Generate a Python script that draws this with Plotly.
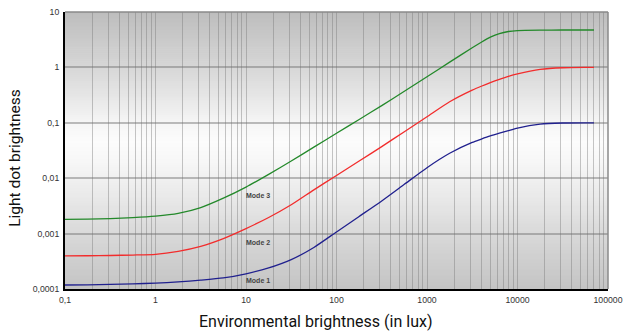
import numpy as np
import plotly.graph_objects as go

# ---------------- data ----------------
lux = [0.1, 0.178, 0.316, 0.562, 1, 1.78, 3.16, 5.62, 10, 17.8, 31.6, 56.2, 100, 178, 316, 562,
       1000, 1780, 3160, 3980, 5010, 6310, 7940, 10000, 17800, 31600, 56200, 70000]

mode1 = [1.180e-4, 1.189e-4, 1.208e-4, 1.239e-4, 1.279e-4, 1.343e-4, 1.445e-4, 1.585e-4, 1.884e-4, 2.399e-4,
         3.388e-4, 5.623e-4, 1.072e-3, 2.042e-3, 3.890e-3, 7.762e-3, 0.01549, 0.02818, 0.04416, 0.0507,
         0.05781, 0.06486, 0.07244, 0.08035, 0.09441, 0.09908, 0.1, 0.1]
mode2 = [3.954e-4, 3.981e-4, 4.027e-4, 4.102e-4, 4.217e-4, 4.786e-4, 5.888e-4, 8.128e-4, 1.230e-3, 1.950e-3,
         3.311e-3, 6.166e-3, 0.01122, 0.02042, 0.03715, 0.06918, 0.1288, 0.2399, 0.3890, 0.4571,
         0.5309, 0.6095, 0.6918, 0.7674, 0.9226, 0.9863, 1.0, 1.0]
mode3 = [1.799e-3, 1.828e-3, 1.871e-3, 1.941e-3, 2.065e-3, 2.317e-3, 2.951e-3, 4.365e-3, 6.918e-3, 0.01175,
         0.02042, 0.03631, 0.06457, 0.1148, 0.2042, 0.3715, 0.6761, 1.245, 2.265, 2.851,
         3.508, 4.074, 4.446, 4.613, 4.699, 4.732, 4.732, 4.732]

series_names = ["Mode 1", "Mode 2", "Mode 3"]
series_colors = ["#20208e", "#f22c2c", "#23892a"]

x_decades = [0.1, 1, 10, 100, 1000, 10000, 100000]
x_labels = ["0,1", "1", "10", "100", "1000", "10000", "100000"]
y_decades = [0.0001, 0.001, 0.01, 0.1, 1, 10]
y_labels = ["0,0001", "0,001", "0,01", "0,1", "1", "10"]

label_pos = {"Mode 1": (13.5, 0.000141), "Mode 2": (13.5, 0.000697), "Mode 3": (13.5, 0.00483)}

# ---------------- figure ----------------
fig = go.Figure()
for name, vals, col in zip(series_names, [mode1, mode2, mode3], series_colors):
    fig.add_trace(go.Scatter(x=lux, y=vals, mode="lines", name=name,
                             line=dict(color=col, width=1.3, shape="spline", smoothing=0.6)))

# vertical grid at all 1..9 multiples
x_grid = []
for d in x_decades[:-1]:
    for m in range(1, 10):
        x_grid.append(d * m)
x_grid.append(x_decades[-1])
x_text = [x_labels[x_decades.index(v)] if v in x_decades else "" for v in x_grid]

# background gradient strips (below gridlines)
stops_f = [0.0, 0.2, 0.4, 0.47, 0.55, 0.68, 0.8, 1.0]
stops_g = [189, 214, 245, 252, 246, 232, 217, 196]
n = 139
shapes = []
for i in range(n):
    f0 = i / n
    f1 = (i + 1) / n
    g = int(round(np.interp((f0 + f1) / 2, stops_f, stops_g)))
    shapes.append(dict(type="rect", xref="paper", yref="paper", x0=0, x1=1,
                       y0=1 - f1, y1=min(1, 1 - f0 + 0.002), layer="below",
                       line=dict(width=0), fillcolor=f"rgb({g},{g},{g})"))
shapes.append(dict(type="line", xref="paper", yref="paper", x0=0, x1=1, y0=1, y1=1,
                   line=dict(color="#8a8a8a", width=1.5), layer="above"))
shapes.append(dict(type="line", xref="paper", yref="paper", x0=1, x1=1, y0=0, y1=1,
                   line=dict(color="#8a8a8a", width=1.5), layer="above"))

annotations = []
for name, (ax_, ay_) in label_pos.items():
    annotations.append(dict(x=np.log10(ax_), y=np.log10(ay_), xref="x", yref="y",
                            text=f"<b>{name}</b>", showarrow=False,
                            font=dict(family="Liberation Sans", size=7, color="#444444")))
annotations.append(dict(x=0.461, y=-0.119, xref="paper", yref="paper", xanchor="center", yanchor="middle",
                        text="Environmental brightness (in lux)", showarrow=False,
                        font=dict(family="Roboto", size=16, color="#111111")))
annotations.append(dict(x=-0.092, y=0.474, xref="paper", yref="paper", xanchor="center", yanchor="middle",
                        text="Light dot brightness", textangle=-90, showarrow=False,
                        font=dict(family="Roboto", size=15.5, color="#111111")))

fig.update_layout(
    width=623, height=335,
    margin=dict(l=65, r=15, t=12, b=46),
    paper_bgcolor="white", plot_bgcolor="#e0e0e0",
    showlegend=False,
    shapes=shapes, annotations=annotations,
    xaxis=dict(type="log", range=[np.log10(x_decades[0]), np.log10(x_decades[-1])],
               tickvals=x_grid, ticktext=x_text, showgrid=True,
               gridcolor="rgba(120,120,120,0.42)", gridwidth=1,
               showline=True, linecolor="black", linewidth=2,
               ticks="outside", ticklen=2, tickcolor="rgba(0,0,0,0)",
               tickfont=dict(family="Liberation Sans", size=8.7, color="#333333"),
               zeroline=False, fixedrange=True, automargin=False),
    yaxis=dict(type="log", range=[np.log10(y_decades[0]), np.log10(y_decades[-1])],
               tickvals=y_decades, ticktext=y_labels, showgrid=True,
               gridcolor="rgba(110,110,110,0.45)", gridwidth=2,
               showline=True, linecolor="black", linewidth=2,
               ticks="outside", ticklen=2, tickcolor="rgba(0,0,0,0)",
               tickfont=dict(family="Liberation Sans", size=8.7, color="#333333"),
               zeroline=False, fixedrange=True, automargin=False),
)

fig.write_html("out.html", config={"displayModeBar": False},
               post_script="document.body.style.margin='0';")
